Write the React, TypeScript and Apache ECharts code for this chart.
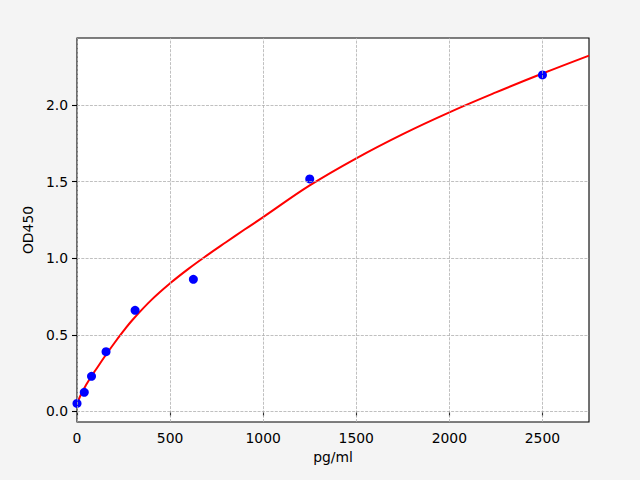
import React, { useEffect, useRef } from "react";
import * as echarts from "echarts";

const concentrations = [0, 39, 78, 156, 312, 625, 1250, 2500];
const odValues = [0.052, 0.125, 0.229, 0.39, 0.66, 0.862, 1.517, 2.196];

const curveX = [0, 25, 50, 75, 100, 150, 200, 250, 300, 400, 500, 600, 700, 800, 900, 1000, 1250, 1500, 1750, 2000, 2250, 2500, 2750];
const curveY = [0.05, 0.12, 0.175, 0.225, 0.27, 0.36, 0.445, 0.525, 0.6, 0.728, 0.836, 0.932, 1.02, 1.104, 1.187, 1.268, 1.475, 1.652, 1.81, 1.952, 2.082, 2.205, 2.322];

const xTicks = [0, 500, 1000, 1500, 2000, 2500];
const yTicks = [0, 0.5, 1.0, 1.5, 2.0];

const xName = "pg/ml";
const yName = "OD450";

export default function App() {
  const ref = useRef<HTMLDivElement>(null);
  useEffect(() => {
    if (!ref.current) return;
    const chart = echarts.init(ref.current, null, { renderer: "svg" });
    const font = "DejaVu Sans";
    const gridLine = { color: "#b0b0b0", width: 0.8, type: [3, 1.3] as any };
    chart.setOption({
      animation: false,
      backgroundColor: "#f4f4f4",
      grid: {
        left: 77,
        top: 38,
        width: 512,
        height: 384,
        show: true,
        backgroundColor: "#ffffff",
        borderColor: "#000000",
        borderWidth: 1.1,
      },
      xAxis: {
        type: "value",
        min: 0,
        max: 2750,
        name: xName,
        nameLocation: "middle",
        nameGap: 28,
        nameTextStyle: { fontFamily: font, fontSize: 13.9, color: "#000" },
        axisLine: { show: false },
        axisTick: { show: true, length: 5, inside: false, customValues: xTicks, lineStyle: { color: "#000", width: 1.1 } },
        axisLabel: { customValues: xTicks, margin: 9, fontFamily: font, fontSize: 13.9, color: "#000", formatter: (v: number) => String(v) },
        splitLine: { show: false },
      },
      yAxis: {
        type: "value",
        min: -0.069,
        max: 2.437,
        name: yName,
        nameLocation: "middle",
        nameGap: 37,
        nameTextStyle: { fontFamily: font, fontSize: 13.9, color: "#000" },
        axisLine: { show: false },
        axisTick: { show: true, length: 5, inside: false, customValues: yTicks, lineStyle: { color: "#000", width: 1.1 } },
        axisLabel: { customValues: yTicks, margin: 9, fontFamily: font, fontSize: 13.9, color: "#000", formatter: (v: number) => v.toFixed(1) },
        splitLine: { show: false },
      },
      series: [
        {
          type: "line",
          data: [],
          silent: true,
          markLine: {
            silent: true,
            symbol: "none",
            label: { show: false },
            lineStyle: gridLine,
            data: [
              ...xTicks.map((v) => ({ xAxis: v })),
              ...yTicks.map((v) => ({ yAxis: v })),
            ],
          },
          z: 1,
        },
        {
          type: "line",
          data: curveX.map((x, i) => [x, curveY[i]]),
          smooth: 0.4,
          showSymbol: false,
          symbol: "none",
          lineStyle: { color: "#ff0000", width: 2 },
          z: 2,
        },
        {
          type: "scatter",
          data: concentrations.map((x, i) => [x, odValues[i]]),
          symbol: "circle",
          symbolSize: 9,
          itemStyle: { color: "#0000ff", opacity: 1 },
          z: 3,
        },
      ],
    });
    return () => chart.dispose();
  }, []);
  return <div ref={ref} style={{ position: "fixed", left: 0, top: 0, width: 640, height: 480 }} />;
}
